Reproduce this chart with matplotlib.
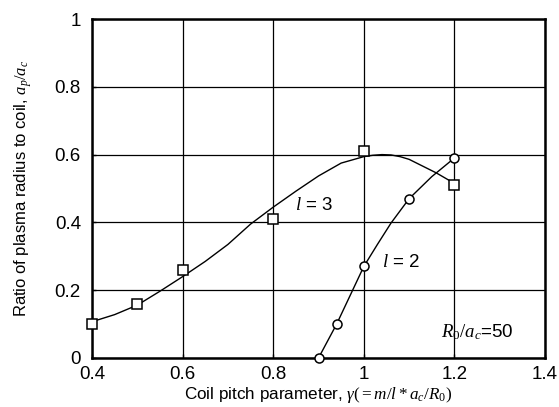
import matplotlib
matplotlib.use("Agg")
import matplotlib.pyplot as plt

plt.rcParams['font.family'] = ['Liberation Sans', 'DejaVu Sans']
plt.rcParams['mathtext.fontset'] = 'custom'
plt.rcParams['mathtext.rm'] = 'Liberation Serif'
plt.rcParams['mathtext.it'] = 'Liberation Serif:italic'

# measured points
l3_x = [0.4, 0.5, 0.6, 0.8, 1.0, 1.2]
l3_y = [0.10, 0.16, 0.26, 0.41, 0.61, 0.51]
l2_x = [0.9, 0.94, 1.0, 1.1, 1.2]
l2_y = [0.0, 0.10, 0.27, 0.47, 0.59]

# fitted curves
l3_fit_x = [0.4, 0.45, 0.5, 0.55, 0.6, 0.65, 0.7, 0.75, 0.8, 0.85, 0.9, 0.95,
            1.0, 1.02, 1.04, 1.06, 1.08, 1.1, 1.13, 1.16, 1.2]
l3_fit_y = [0.107, 0.128, 0.156, 0.197, 0.240, 0.285, 0.335, 0.395, 0.445, 0.492, 0.537, 0.575,
            0.594, 0.598, 0.600, 0.599, 0.594, 0.586, 0.566, 0.546, 0.515]
l2_fit_x = [0.9, 0.94, 0.97, 1.0, 1.03, 1.06, 1.1, 1.15, 1.2]
l2_fit_y = [0.0, 0.10, 0.185, 0.27, 0.335, 0.398, 0.47, 0.535, 0.59]

fig = plt.figure(figsize=(5.59, 4.07), dpi=100)
ax = fig.add_axes([0.1646, 0.1204, 0.8104, 0.8329])

ax.plot(l3_fit_x, l3_fit_y, color='black', lw=1.0)
ax.plot(l2_fit_x, l2_fit_y, color='black', lw=1.0)
ax.plot(l3_x, l3_y, 's', ms=7, mfc='white', mec='black', mew=1.1, ls='none', clip_on=False, zorder=5)
ax.plot(l2_x, l2_y, 'o', ms=6.5, mfc='white', mec='black', mew=1.1, ls='none', clip_on=False, zorder=5)

ax.text(0.848, 0.45, "$l$ = 3", fontsize=13.5, va='center')
ax.text(1.04, 0.283, "$l$ = 2", fontsize=13.5, va='center')
ax.text(1.17, 0.077, "$R_0/a_c$=50", fontsize=13.5, va='center')

ax.set_xlim(0.4, 1.4)
ax.set_ylim(0, 1)
ax.set_xticks([0.4, 0.6, 0.8, 1.0, 1.2, 1.4])
ax.set_xticklabels(["0.4", "0.6", "0.8", "1", "1.2", "1.4"])
ax.set_yticks([0, 0.2, 0.4, 0.6, 0.8, 1.0])
ax.set_yticklabels(["0", "0.2", "0.4", "0.6", "0.8", "1"])
ax.tick_params(labelsize=13.5, direction='in', length=3, width=1)
ax.tick_params(axis='x', pad=6)
ax.tick_params(axis='y', pad=8)
ax.grid(True, color='black', lw=0.9)
for s in ax.spines.values():
    s.set_linewidth(1.8)

ax.set_xlabel(r"Coil pitch parameter, $\gamma(=m/l*a_c/R_0)$", fontsize=12.3, labelpad=1)
ax.set_ylabel("Ratio of plasma radius to coil, $a_p/a_c$", fontsize=12, labelpad=15)

fig.savefig("out.png", dpi=100)
